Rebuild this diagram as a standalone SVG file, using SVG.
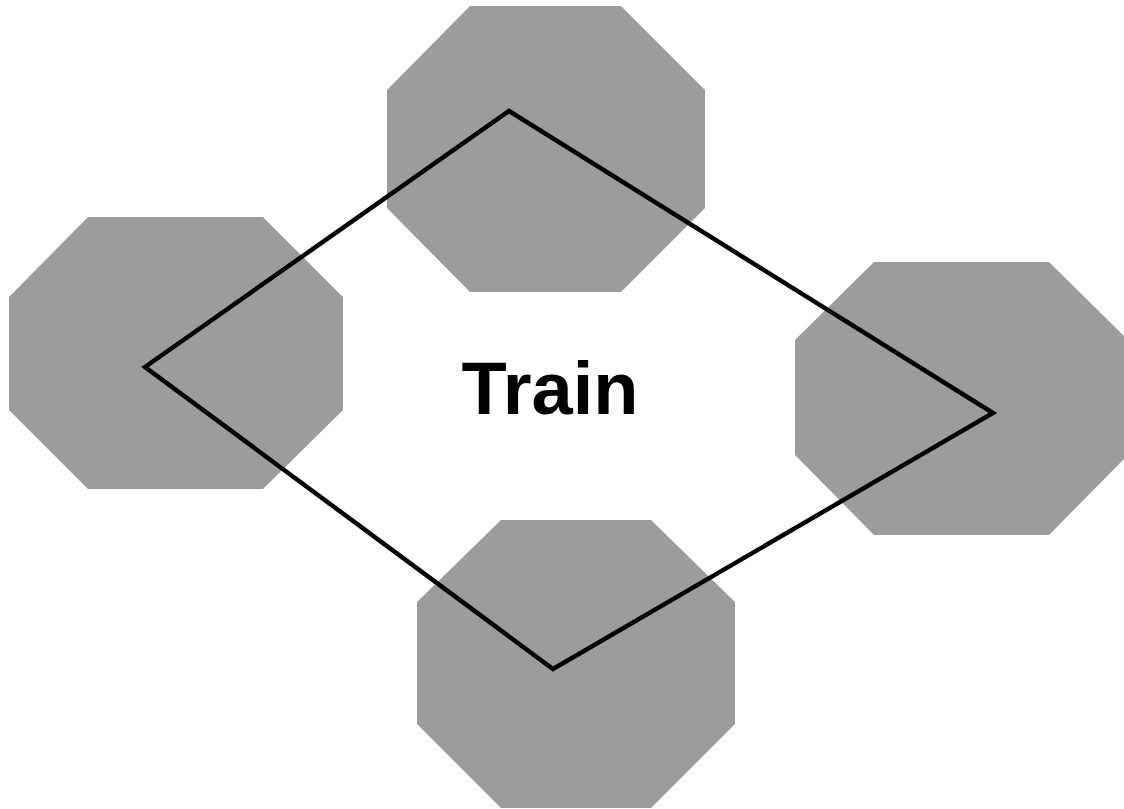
<svg xmlns="http://www.w3.org/2000/svg" width="1124" height="809" viewBox="0 0 1124 809">
<style>
.oct{fill:#9c9c9c;stroke:none}
.edge{fill:none;stroke:#000;stroke-width:4.5;stroke-linejoin:miter}
.lbl{font-family:"Liberation Sans",Arial,sans-serif;font-weight:bold;font-size:74px;fill:#000}
</style>
<rect width="1124" height="809" fill="#fff"/>
<g id="node-top"><polygon class="oct" points="470,6 621,6 705,90 705,208 621,292 470,292 387,208 387,90"/></g>
<g id="node-left"><polygon class="oct" points="88,217 263,217 343,297 343,410 263,489 88,489 9,410 9,297"/></g>
<g id="node-right"><polygon class="oct" points="874,262 1049,262 1128,340 1128,455 1049,535 874,535 795,455 795,340"/></g>
<g id="node-bottom"><polygon class="oct" points="501,520 651,520 735,602 735,724 651,808 501,808 417,724 417,602"/></g>
<g id="connectors"><polygon class="edge" points="509,111 993,413 553,669 145,367"/></g>
<g id="label"><text class="lbl" x="550" y="414" text-anchor="middle">Train</text></g>
</svg>
